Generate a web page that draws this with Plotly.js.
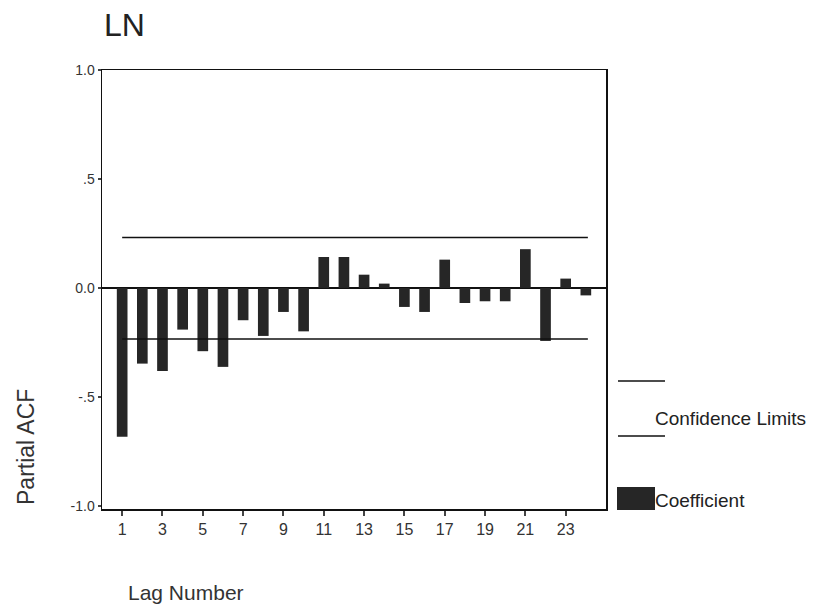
<!DOCTYPE html>
<html>
<head>
<meta charset="utf-8">
<script src="https://cdn.plot.ly/plotly-3.0.1.min.js"></script>
<style>html,body{margin:0;padding:0;background:#fff;}#chart{width:816px;height:608px;}</style>
</head>
<body>
<div id="chart"></div>
<script>
const lags = [1,2,3,4,5,6,7,8,9,10,11,12,13,14,15,16,17,18,19,20,21,22,23,24];
const coefficients = [-0.683,-0.347,-0.381,-0.191,-0.290,-0.362,-0.148,-0.220,-0.110,-0.199,
  0.142,0.142,0.061,0.020,-0.087,-0.110,0.130,-0.069,-0.061,-0.061,0.178,-0.243,0.043,-0.034];
const upperLimit = [0.232, 0.232];
const lowerLimit = [-0.234, -0.234];
const limitLags = [1, 24.1];
const xTickVals = [1,3,5,7,9,11,13,15,17,19,21,23];
const yTickVals = [-1, -0.5, 0, 0.5, 1];
const yTickText = ["-1.0", "-.5", "0.0", ".5", "1.0"];

const font = "Liberation Sans, Arial, sans-serif";
const traces = [
  {type:'bar', x: lags, y: coefficients, marker:{color:'#262626', line:{width:0}}, showlegend:false, hoverinfo:'x+y'},
  {type:'scatter', mode:'lines', x: limitLags, y: upperLimit, line:{color:'#111', width:1.5}, showlegend:false},
  {type:'scatter', mode:'lines', x: limitLags, y: lowerLimit, line:{color:'#111', width:1.5}, showlegend:false}
];
const layout = {
  width:816, height:608,
  margin:{l:102, r:210, t:70, b:99},
  paper_bgcolor:'#fff', plot_bgcolor:'#fff',
  bargap:0.47,
  showlegend:false,
  font:{family:font, color:'#333', size:14},
  xaxis:{range:[0,25], tickvals:xTickVals, ticks:'outside', ticklen:5, tickwidth:2, tickcolor:'#444',
    showline:true, mirror:true, linecolor:'#111', linewidth:1.5, showgrid:false, zeroline:false,
    tickfont:{size:16, color:'#333', family:font}, fixedrange:true},
  yaxis:{range:[-1.014,1.0], tickvals:yTickVals, ticktext:yTickText, ticks:'outside', ticklen:3, tickwidth:2, tickcolor:'#444',
    showline:true, mirror:true, linecolor:'#111', linewidth:1.5, showgrid:false,
    zeroline:true, zerolinecolor:'#111', zerolinewidth:1.5,
    tickfont:{size:14, color:'#333', family:font}, fixedrange:true},
  shapes:[
    {type:'line', xref:'paper', yref:'paper', x0:(618-102)/504, x1:(665-102)/504, y0:(509-381)/439, y1:(509-381)/439, line:{color:'#111', width:1.5}},
    {type:'line', xref:'paper', yref:'paper', x0:(618-102)/504, x1:(665-102)/504, y0:(509-436)/439, y1:(509-436)/439, line:{color:'#111', width:1.5}},
    {type:'rect', xref:'paper', yref:'paper', x0:(617-102)/504, x1:(655-102)/504, y0:(509-510)/439, y1:(509-487)/439, fillcolor:'#262626', line:{width:0}}
  ],
  annotations:[
    {text:'LN', xref:'paper', yref:'paper', x:(102-102)/504, y:(509-25)/439, xanchor:'left', yanchor:'middle', showarrow:false, font:{size:32, color:'#222', family:font}},
    {text:'Partial ACF', xref:'paper', yref:'paper', x:(26-102)/504, y:(509-447)/439, textangle:-90, xanchor:'center', yanchor:'middle', showarrow:false, font:{size:23, color:'#333', family:font}},
    {text:'Lag Number', xref:'paper', yref:'paper', x:(126-102)/504, y:(509-592)/439, xanchor:'left', yanchor:'middle', showarrow:false, font:{size:21, color:'#333', family:font}},
    {text:'Confidence Limits', xref:'paper', yref:'paper', x:(653-102)/504, y:(509-418)/439, xanchor:'left', yanchor:'middle', showarrow:false, font:{size:19, color:'#222', family:font}},
    {text:'Coefficient', xref:'paper', yref:'paper', x:(653-102)/504, y:(509-500)/439, xanchor:'left', yanchor:'middle', showarrow:false, font:{size:19, color:'#222', family:font}}
  ]
};
Plotly.newPlot('chart', traces, layout, {displayModeBar:false, staticPlot:true});
</script>
</body>
</html>
